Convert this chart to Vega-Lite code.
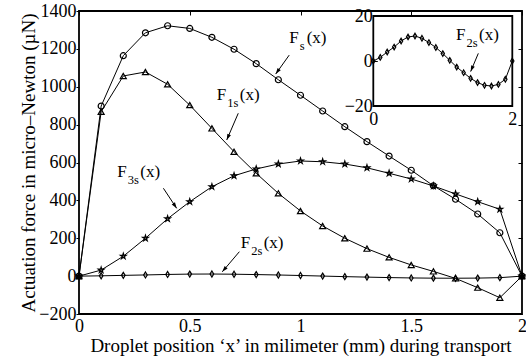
{
  "$schema": "https://vega.github.io/schema/vega-lite/v6.json",
  "width": 443,
  "height": 303,
  "autosize": "none",
  "padding": {"left": 79, "top": 11, "right": 4, "bottom": 46},
  "background": "white",
  "config": {
    "font": "Liberation Serif",
    "view": {"stroke": "black", "strokeWidth": 1.8},
    "axis": {"grid": false, "domain": false, "ticks": true, "tickColor": "black", "tickWidth": 1, "labelColor": "black", "labelFont": "Liberation Serif", "labelFontSize": 18, "titleFont": "Liberation Serif", "titleFontSize": 19, "titleFontWeight": "normal", "titleColor": "black", "labelFlush": false, "labelOverlap": false}
  },
  "datasets": {
    "curves": [
      {"s": "Fs", "x": 0, "v": 0}, {"s": "Fs", "x": 0.1, "v": 898}, {"s": "Fs", "x": 0.2, "v": 1164}, {"s": "Fs", "x": 0.3, "v": 1285}, {"s": "Fs", "x": 0.4, "v": 1322}, {"s": "Fs", "x": 0.5, "v": 1308}, {"s": "Fs", "x": 0.6, "v": 1261}, {"s": "Fs", "x": 0.7, "v": 1198}, {"s": "Fs", "x": 0.8, "v": 1122}, {"s": "Fs", "x": 0.9, "v": 1037}, {"s": "Fs", "x": 1.0, "v": 955}, {"s": "Fs", "x": 1.1, "v": 872}, {"s": "Fs", "x": 1.2, "v": 789}, {"s": "Fs", "x": 1.3, "v": 710}, {"s": "Fs", "x": 1.4, "v": 634}, {"s": "Fs", "x": 1.5, "v": 559}, {"s": "Fs", "x": 1.6, "v": 477}, {"s": "Fs", "x": 1.7, "v": 406}, {"s": "Fs", "x": 1.8, "v": 328}, {"s": "Fs", "x": 1.9, "v": 229}, {"s": "Fs", "x": 2.0, "v": 0},
      {"s": "F1s", "x": 0, "v": 0}, {"s": "F1s", "x": 0.1, "v": 868}, {"s": "F1s", "x": 0.2, "v": 1057}, {"s": "F1s", "x": 0.3, "v": 1078}, {"s": "F1s", "x": 0.4, "v": 1013}, {"s": "F1s", "x": 0.5, "v": 903}, {"s": "F1s", "x": 0.6, "v": 780}, {"s": "F1s", "x": 0.7, "v": 657}, {"s": "F1s", "x": 0.8, "v": 543}, {"s": "F1s", "x": 0.9, "v": 437}, {"s": "F1s", "x": 1.0, "v": 344}, {"s": "F1s", "x": 1.1, "v": 265}, {"s": "F1s", "x": 1.2, "v": 200}, {"s": "F1s", "x": 1.3, "v": 145}, {"s": "F1s", "x": 1.4, "v": 99}, {"s": "F1s", "x": 1.5, "v": 59}, {"s": "F1s", "x": 1.6, "v": 25}, {"s": "F1s", "x": 1.7, "v": -12}, {"s": "F1s", "x": 1.8, "v": -61}, {"s": "F1s", "x": 1.9, "v": -114}, {"s": "F1s", "x": 2.0, "v": 0},
      {"s": "F3s", "x": 0, "v": 0}, {"s": "F3s", "x": 0.1, "v": 32}, {"s": "F3s", "x": 0.2, "v": 105}, {"s": "F3s", "x": 0.3, "v": 200}, {"s": "F3s", "x": 0.4, "v": 303}, {"s": "F3s", "x": 0.5, "v": 393}, {"s": "F3s", "x": 0.6, "v": 472}, {"s": "F3s", "x": 0.7, "v": 530}, {"s": "F3s", "x": 0.8, "v": 566}, {"s": "F3s", "x": 0.9, "v": 592}, {"s": "F3s", "x": 1.0, "v": 608}, {"s": "F3s", "x": 1.1, "v": 604}, {"s": "F3s", "x": 1.2, "v": 592}, {"s": "F3s", "x": 1.3, "v": 572}, {"s": "F3s", "x": 1.4, "v": 543}, {"s": "F3s", "x": 1.5, "v": 513}, {"s": "F3s", "x": 1.6, "v": 476}, {"s": "F3s", "x": 1.7, "v": 434}, {"s": "F3s", "x": 1.8, "v": 393}, {"s": "F3s", "x": 1.9, "v": 353}, {"s": "F3s", "x": 2.0, "v": 0},
      {"s": "F2s", "x": 0, "v": 0}, {"s": "F2s", "x": 0.1, "v": 1.6}, {"s": "F2s", "x": 0.2, "v": 4}, {"s": "F2s", "x": 0.3, "v": 6.2}, {"s": "F2s", "x": 0.4, "v": 8.9}, {"s": "F2s", "x": 0.5, "v": 10.7}, {"s": "F2s", "x": 0.6, "v": 11.1}, {"s": "F2s", "x": 0.7, "v": 10.1}, {"s": "F2s", "x": 0.8, "v": 8.2}, {"s": "F2s", "x": 0.9, "v": 6}, {"s": "F2s", "x": 1.0, "v": 3.3}, {"s": "F2s", "x": 1.1, "v": 0.3}, {"s": "F2s", "x": 1.2, "v": -2.7}, {"s": "F2s", "x": 1.3, "v": -5.2}, {"s": "F2s", "x": 1.4, "v": -7.7}, {"s": "F2s", "x": 1.5, "v": -9.6}, {"s": "F2s", "x": 1.6, "v": -10.8}, {"s": "F2s", "x": 1.7, "v": -11.1}, {"s": "F2s", "x": 1.8, "v": -10.4}, {"s": "F2s", "x": 1.9, "v": -8.1}, {"s": "F2s", "x": 2.0, "v": 0}
    ],
    "labels": [
      {"id": "Fs", "panel": "main", "x": 0.949, "y": 1232, "sub": "s"},
      {"id": "F1s", "panel": "main", "x": 0.622, "y": 930, "sub": "1s"},
      {"id": "F3s", "panel": "main", "x": 0.173, "y": 525, "sub": "3s"},
      {"id": "F2s", "panel": "main", "x": 0.730, "y": 147, "sub": "2s"},
      {"id": "F2s_in", "panel": "inset", "x": 1.19, "y": 9.3, "sub": "2s"}
    ],
    "arrows": [
      {"id": "Fs", "panel": "main", "x": 0.949, "y": 1167, "x2": 0.888, "y2": 1067},
      {"id": "F1s", "panel": "main", "x": 0.719, "y": 860, "x2": 0.667, "y2": 719},
      {"id": "F3s", "panel": "main", "x": 0.381, "y": 464, "x2": 0.441, "y2": 358},
      {"id": "F2s", "panel": "main", "x": 0.724, "y": 129, "x2": 0.647, "y2": 23},
      {"id": "F2s_in", "panel": "inset", "x": 1.511, "y": 3.4, "x2": 1.401, "y2": -4.7}
    ]
  },
  "layer": [
    {
      "layer": [
        {
          "data": {"name": "curves"},
          "mark": {"type": "line", "color": "black", "strokeWidth": 1},
          "encoding": {
            "x": {"field": "x", "type": "quantitative", "scale": {"domain": [0, 2], "nice": false, "zero": false},
              "axis": {"orient": "bottom", "values": [0, 0.5, 1, 1.5, 2], "format": "~g", "tickSize": 0, "labelPadding": 3, "title": "Droplet position ‘x’ in milimeter (mm) during transport", "titlePadding": 1}},
            "y": {"field": "v", "type": "quantitative", "scale": {"domain": [-200, 1400], "nice": false, "zero": false},
              "axis": {"orient": "left", "values": [-200, 0, 200, 400, 600, 800, 1000, 1200, 1400], "format": "d", "tickSize": 3, "labelPadding": 0, "title": "Actuation force in micro–Newton (µN)", "titlePadding": 0}},
            "detail": {"field": "s", "type": "nominal"}
          }
        },
        {
          "data": {"name": "curves"},
          "mark": {"type": "point", "filled": false, "color": "black", "strokeWidth": 1.2, "size": 36, "opacity": 1},
          "encoding": {
            "x": {"field": "x", "type": "quantitative", "scale": {"domain": [0, 2], "nice": false, "zero": false},
              "axis": {"orient": "top", "values": [0, 0.5, 1, 1.5, 2], "tickSize": -4, "labels": false, "title": null}},
            "y": {"field": "v", "type": "quantitative", "scale": {"domain": [-200, 1400], "nice": false, "zero": false},
              "axis": {"orient": "right", "values": [-200, 0, 200, 400, 600, 800, 1000, 1200, 1400], "tickSize": -4, "labels": false, "title": null}},
            "shape": {"field": "s", "type": "nominal", "legend": null,
              "scale": {"domain": ["Fs", "F1s", "F3s", "F2s"], "range": ["circle", "triangle-up", "M0,-1L0.2245,-0.309L0.951,-0.309L0.363,0.118L0.588,0.809L0,0.382L-0.588,0.809L-0.363,0.118L-0.951,-0.309L-0.2245,-0.309Z", "M0,-1L0.6,0L0,1L-0.6,0Z"]}}
          }
        },
        {
          "data": {"name": "labels"},
          "transform": [{"filter": "datum.panel == 'main'"}],
          "mark": {"type": "text", "text": "F", "align": "left", "baseline": "alphabetic", "fontSize": 17, "color": "black"},
          "encoding": {"x": {"field": "x", "type": "quantitative", "axis": null}, "y": {"field": "y", "type": "quantitative", "axis": null}}
        },
        {
          "data": {"name": "labels"},
          "transform": [{"filter": "datum.panel == 'main'"}],
          "mark": {"type": "text", "align": "left", "baseline": "alphabetic", "fontSize": 12.5, "dx": 10.5, "dy": 7, "color": "black"},
          "encoding": {"x": {"field": "x", "type": "quantitative", "axis": null}, "y": {"field": "y", "type": "quantitative", "axis": null}, "text": {"field": "sub", "type": "nominal"}}
        },
        {
          "data": {"name": "labels"},
          "transform": [{"filter": "datum.panel == 'main' && datum.sub == 's'"}],
          "mark": {"type": "text", "text": "(x)", "align": "left", "baseline": "alphabetic", "fontSize": 17, "dx": 17.5, "color": "black"},
          "encoding": {"x": {"field": "x", "type": "quantitative", "axis": null}, "y": {"field": "y", "type": "quantitative", "axis": null}}
        },
        {
          "data": {"name": "labels"},
          "transform": [{"filter": "datum.panel == 'main' && datum.sub != 's'"}],
          "mark": {"type": "text", "text": "(x)", "align": "left", "baseline": "alphabetic", "fontSize": 17, "dx": 23, "color": "black"},
          "encoding": {"x": {"field": "x", "type": "quantitative", "axis": null}, "y": {"field": "y", "type": "quantitative", "axis": null}}
        },
        {
          "data": {"name": "arrows"},
          "transform": [{"filter": "datum.panel == 'main'"}],
          "mark": {"type": "rule", "color": "black", "strokeWidth": 1},
          "encoding": {"x": {"field": "x", "type": "quantitative", "axis": null}, "y": {"field": "y", "type": "quantitative", "axis": null}, "x2": {"field": "x2"}, "y2": {"field": "y2"}}
        },
        {
          "data": {"name": "arrows"},
          "transform": [{"filter": "datum.id == 'Fs'"}],
          "mark": {"type": "point", "shape": "M0,0L0.65,2L-0.65,2Z", "filled": true, "color": "black", "size": 36, "angle": 215.6, "opacity": 1},
          "encoding": {"x": {"field": "x2", "type": "quantitative", "axis": null}, "y": {"field": "y2", "type": "quantitative", "axis": null}}
        },
        {
          "data": {"name": "arrows"},
          "transform": [{"filter": "datum.id == 'F1s'"}],
          "mark": {"type": "point", "shape": "M0,0L0.65,2L-0.65,2Z", "filled": true, "color": "black", "size": 36, "angle": 203.5, "opacity": 1},
          "encoding": {"x": {"field": "x2", "type": "quantitative", "axis": null}, "y": {"field": "y2", "type": "quantitative", "axis": null}}
        },
        {
          "data": {"name": "arrows"},
          "transform": [{"filter": "datum.id == 'F3s'"}],
          "mark": {"type": "point", "shape": "M0,0L0.65,2L-0.65,2Z", "filled": true, "color": "black", "size": 36, "angle": 146.2, "opacity": 1},
          "encoding": {"x": {"field": "x2", "type": "quantitative", "axis": null}, "y": {"field": "y2", "type": "quantitative", "axis": null}}
        },
        {
          "data": {"name": "arrows"},
          "transform": [{"filter": "datum.id == 'F2s'"}],
          "mark": {"type": "point", "shape": "M0,0L0.65,2L-0.65,2Z", "filled": true, "color": "black", "size": 36, "angle": 219.7, "opacity": 1},
          "encoding": {"x": {"field": "x2", "type": "quantitative", "axis": null}, "y": {"field": "y2", "type": "quantitative", "axis": null}}
        }
      ],
      "resolve": {"axis": {"x": "independent", "y": "independent"}}
    },
    {
      "layer": [
        {
          "data": {"values": [{}]},
          "mark": {"type": "rect", "fill": "white", "stroke": "black", "strokeWidth": 1.8},
          "encoding": {
            "x": {"datum": 0, "type": "quantitative", "scale": {"domain": [0, 2], "range": [294.3, 433.3], "nice": false, "zero": false}, "axis": null},
            "x2": {"datum": 2},
            "y": {"datum": -20, "type": "quantitative", "scale": {"domain": [-20, 20], "range": [95, 5], "nice": false, "zero": false}, "axis": null},
            "y2": {"datum": 20}
          }
        },
        {
          "data": {"name": "curves"},
          "transform": [{"filter": "datum.s == 'F2s'"}],
          "mark": {"type": "line", "color": "black", "strokeWidth": 1},
          "encoding": {
            "x": {"field": "x", "type": "quantitative", "scale": {"domain": [0, 2], "range": [294.3, 433.3], "nice": false, "zero": false},
              "axis": {"orient": "bottom", "offset": -208, "zindex": 2, "values": [0, 1, 2], "format": "d", "tickSize": -4, "labelPadding": 8, "title": null}},
            "y": {"field": "v", "type": "quantitative", "scale": {"domain": [-20, 20], "range": [95, 5], "nice": false, "zero": false},
              "axis": {"orient": "left", "offset": -294.3, "zindex": 2, "values": [-20, 0, 20], "format": "d", "tickSize": -4, "labelPadding": 5, "title": null}}
          }
        },
        {
          "data": {"name": "curves"},
          "transform": [{"filter": "datum.s == 'F2s'"}],
          "mark": {"type": "point", "filled": false, "color": "black", "strokeWidth": 1.2, "size": 30, "opacity": 1, "shape": "M0,-1L0.6,0L0,1L-0.6,0Z"},
          "encoding": {"x": {"field": "x", "type": "quantitative", "axis": null}, "y": {"field": "v", "type": "quantitative", "axis": null}}
        },
        {
          "data": {"name": "labels"},
          "transform": [{"filter": "datum.panel == 'inset'"}],
          "mark": {"type": "text", "text": "F", "align": "left", "baseline": "alphabetic", "fontSize": 17, "color": "black"},
          "encoding": {"x": {"field": "x", "type": "quantitative", "axis": null}, "y": {"field": "y", "type": "quantitative", "axis": null}}
        },
        {
          "data": {"name": "labels"},
          "transform": [{"filter": "datum.panel == 'inset'"}],
          "mark": {"type": "text", "align": "left", "baseline": "alphabetic", "fontSize": 12.5, "dx": 10.5, "dy": 7, "color": "black"},
          "encoding": {"x": {"field": "x", "type": "quantitative", "axis": null}, "y": {"field": "y", "type": "quantitative", "axis": null}, "text": {"field": "sub", "type": "nominal"}}
        },
        {
          "data": {"name": "labels"},
          "transform": [{"filter": "datum.panel == 'inset'"}],
          "mark": {"type": "text", "text": "(x)", "align": "left", "baseline": "alphabetic", "fontSize": 17, "dx": 23, "color": "black"},
          "encoding": {"x": {"field": "x", "type": "quantitative", "axis": null}, "y": {"field": "y", "type": "quantitative", "axis": null}}
        },
        {
          "data": {"name": "arrows"},
          "transform": [{"filter": "datum.panel == 'inset'"}],
          "mark": {"type": "rule", "color": "black", "strokeWidth": 1},
          "encoding": {"x": {"field": "x", "type": "quantitative", "axis": null}, "y": {"field": "y", "type": "quantitative", "axis": null}, "x2": {"field": "x2"}, "y2": {"field": "y2"}}
        },
        {
          "data": {"name": "arrows"},
          "transform": [{"filter": "datum.panel == 'inset'"}],
          "mark": {"type": "point", "shape": "M0,0L0.65,2L-0.65,2Z", "filled": true, "color": "black", "size": 36, "angle": 202.4, "opacity": 1},
          "encoding": {"x": {"field": "x2", "type": "quantitative", "axis": null}, "y": {"field": "y2", "type": "quantitative", "axis": null}}
        }
      ],
      "resolve": {"axis": {"x": "independent", "y": "independent"}}
    }
  ],
  "resolve": {"scale": {"x": "independent", "y": "independent"}}
}
